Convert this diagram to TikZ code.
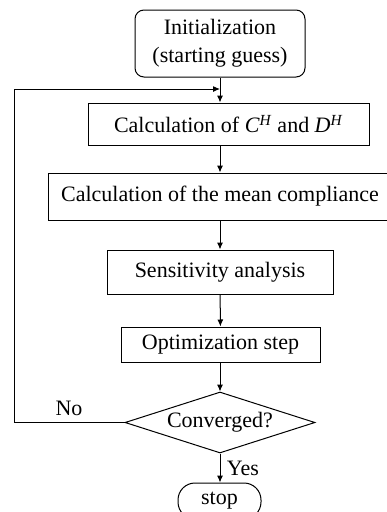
\documentclass[tikz,border=0pt]{standalone}
\usepackage{fontspec}
\setmainfont{Liberation Serif}
\usetikzlibrary{shapes.geometric,arrows.meta}
\begin{document}
\begin{tikzpicture}[x=1pt,y=-1pt,
  every node/.style={font=\fontsize{22}{26}\selectfont, inner sep=0pt},
  stepbox/.style={draw, line width=1pt, minimum width=#1},
  arr/.style={-{Latex[length=7pt,width=6pt]}, line width=1pt},
  link/.style={line width=1pt}]
\useasboundingbox (0,0) rectangle (387,512);
\clip (0,0) rectangle (387,512);
% start of the loop
\node[stepbox=170pt, minimum height=67pt, rounded corners=9pt, align=center,
      font=\fontsize{22}{28}\selectfont] (init) at (220,43.5)
  {Initialization\\(starting guess)};
\node[stepbox=281pt, minimum height=42pt] (ch) at (228.5,124)
  {Calculation of \textit{C}\textsuperscript{\textit{H}} and \textit{D}\textsuperscript{\textit{H}}};
\node[stepbox=344pt, minimum height=47pt] (mc) at (220,196.5)
  {Calculation of the mean compliance};
\node[stepbox=226pt, minimum height=44pt] (sa) at (220,272)
  {Sensitivity analysis};
\node[stepbox=199pt, minimum height=35pt] (os) at (220.5,344.5)
  {Optimization step};
\node[draw, line width=1pt, diamond, minimum width=190pt, minimum height=61pt,
      aspect=3.1] (cv) at (220,422.5) {};
\node at (220,422) {Converged?};
\node[stepbox=83pt, minimum height=36pt, rounded corners=17pt] (stop) at (219.5,501)
  {stop};
% flow between the steps
\coordinate (join) at (220,89);
\coordinate (turn) at (14,89);
\coordinate (back) at (14,422.5);
\draw[link] (init.south -| join) -- (join);
\draw[arr] (join) -- (join |- ch.north);
\draw[arr] (join |- ch.south) -- (mc.north);
\draw[arr] (mc) -- (sa);
\draw[arr] (sa) -- (os);
\draw[arr] (os.south -| cv.north) -- (cv.north);
\draw[arr] (cv.south) -- (stop.north -| cv.south);
\draw[arr] (cv.west) -- (back) -- (turn) -- (join);
% branch labels
\node at (69,408) {No};
\node at (243,468) {Yes};
\end{tikzpicture}
\end{document}
